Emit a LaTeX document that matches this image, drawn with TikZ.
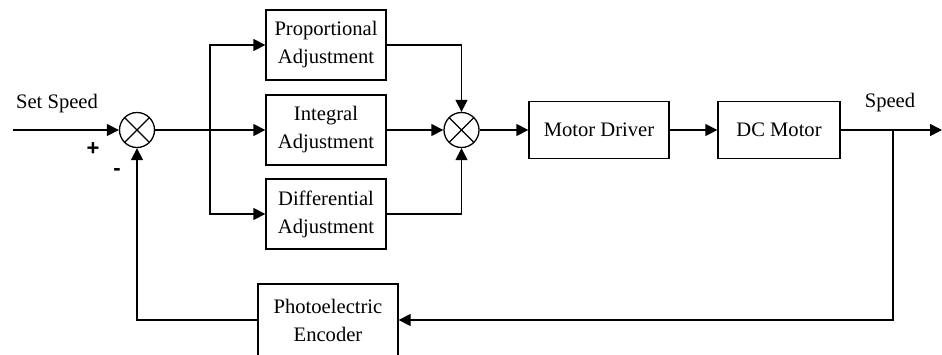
\documentclass[tikz,border=0pt]{standalone}
\usepackage{fontspec}
\setmainfont{Liberation Serif}
\newfontfamily\signfont{Liberation Sans}
\usetikzlibrary{arrows.meta,calc}

\begin{document}
\begin{tikzpicture}[x=0.5pt,y=-0.5pt,
  every node/.style={font=\fontsize{10.3}{14}\selectfont},
  wire/.style={line width=0.65pt},
  flow/.style={wire,-{Triangle[length=6pt,width=6pt]}},
  block/.style={draw,line width=0.65pt,rectangle,inner sep=0pt,align=center},
  pidbox/.style={block,minimum width=60pt,minimum height=35pt},
  plantbox/.style={block,minimum height=28.5pt},
  sumjunction/.style={draw,line width=0.65pt,circle,inner sep=0pt,minimum size=17.5pt,
    path picture={
      \draw[line width=0.6pt] (path picture bounding box.north east) -- (path picture bounding box.south west)
        (path picture bounding box.north west) -- (path picture bounding box.south east);}},
  sign/.style={font=\signfont\bfseries\fontsize{11}{13}\selectfont}
]
\clip (0,0) rectangle (942,354);

% summing junctions
\node[sumjunction] (s1) at (137,130) {};
\node[sumjunction] (s2) at (461.5,130) {};

% controller branches
\node[pidbox] (P) at (326,45) {Proportional\\Adjustment};
\node[pidbox] (I) at (326,130) {Integral\\Adjustment};
\node[pidbox] (D) at (326,214) {Differential\\Adjustment};

% plant
\node[plantbox,minimum width=70pt] (MD) at (599,130) {Motor Driver};
\node[plantbox,minimum width=61pt] (DC) at (779,130) {DC Motor};

% feedback sensor
\node[block,minimum width=70pt,minimum height=36pt] (enc) at (328,320) {Photoelectric\\Encoder};

% labels
\node (setlbl) at (57,104) {Set Speed};
\node (spdlbl) at (890,103) {Speed};
\node[sign] (plus) at (93,149) {+};
\node[sign] (minus) at (117,172) {-};

% free ends and branch points
\coordinate (in) at (13,130);
\coordinate (out) at (942,130);
\coordinate (b1) at (210,130);
\coordinate (b2) at (893,130);

% forward path
\draw[flow] (in) -- (s1.west);
\draw[flow] (s1.east) -- (I.west);
\draw[flow] (b1) |- (P.west);
\draw[flow] (b1) |- (D.west);
\draw[flow] (P.east) -| (s2.north);
\draw[flow] (I.east) -- (s2.west);
\draw[flow] (D.east) -| (s2.south);
\draw[flow] (s2.east) -- (MD.west);
\draw[flow] (MD.east) -- (DC.west);
\draw[flow] (DC.east) -- (out);

% feedback path
\draw[flow] (b2) |- (enc.east);
\draw[flow] (enc.west) -| (s1.south);
\end{tikzpicture}
\end{document}
